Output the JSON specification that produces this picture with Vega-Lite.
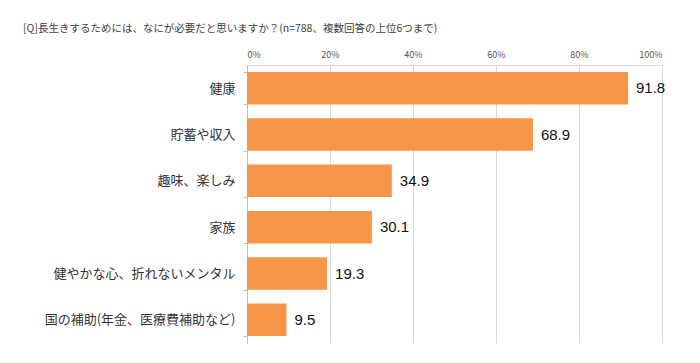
{
  "$schema": "https://vega.github.io/schema/vega-lite/v6.json",
  "autosize": {"type": "none"},
  "width": 415,
  "height": 278,
  "padding": {"left": 247, "top": 65, "right": 38, "bottom": 20},
  "background": "white",
  "config": {
    "font": "Noto Sans CJK JP",
    "view": {"stroke": null}
  },
  "title": {
    "text": "[Q]長生きするためには、なにが必要だと思いますか？(n=788、複数回答の上位6つまで)",
    "anchor": "start",
    "frame": "group",
    "dx": -224,
    "offset": 16,
    "fontSize": 10.5,
    "fontWeight": "normal",
    "color": "#404040",
    "font": "Noto Sans CJK JP"
  },
  "data": {
    "values": [
      {"item": "健康", "pct": 91.8},
      {"item": "貯蓄や収入", "pct": 68.9},
      {"item": "趣味、楽しみ", "pct": 34.9},
      {"item": "家族", "pct": 30.1},
      {"item": "健やかな心、折れないメンタル", "pct": 19.3},
      {"item": "国の補助(年金、医療費補助など)", "pct": 9.5}
    ]
  },
  "encoding": {
    "y": {
      "field": "item",
      "type": "nominal",
      "sort": null,
      "scale": {"paddingInner": 0.3, "paddingOuter": 0.15},
      "axis": {
        "title": null,
        "orient": "left",
        "domainColor": "#bfbfbf",
        "tickColor": "#bfbfbf",
        "tickBand": "extent",
        "tickSize": 4,
        "labelFontSize": 13,
        "labelColor": "#333333",
        "labelPadding": 8,
        "labelLimit": 300,
        "labelFont": "Noto Sans CJK JP"
      }
    }
  },
  "layer": [
    {
      "mark": {"type": "bar", "color": "#F79646"},
      "encoding": {
        "x": {
          "field": "pct",
          "type": "quantitative",
          "scale": {"domain": [0, 100], "nice": false},
          "axis": {
            "title": null,
            "orient": "top",
            "values": [0, 20, 40, 60, 80, 100],
            "labelExpr": "datum.value + '%'",
            "labelFontSize": 9,
            "labelColor": "#555555",
            "labelPadding": 6,
            "ticks": false,
            "domainColor": "#d9d9d9",
            "gridColor": "#d9d9d9",
            "grid": true
          }
        }
      }
    },
    {
      "mark": {"type": "text", "align": "left", "baseline": "middle", "dx": 8, "fontSize": 15, "color": "#111111", "font": "Liberation Sans"},
      "encoding": {
        "x": {"field": "pct", "type": "quantitative"},
        "text": {"field": "pct", "type": "quantitative", "format": ".1f"}
      }
    }
  ]
}
